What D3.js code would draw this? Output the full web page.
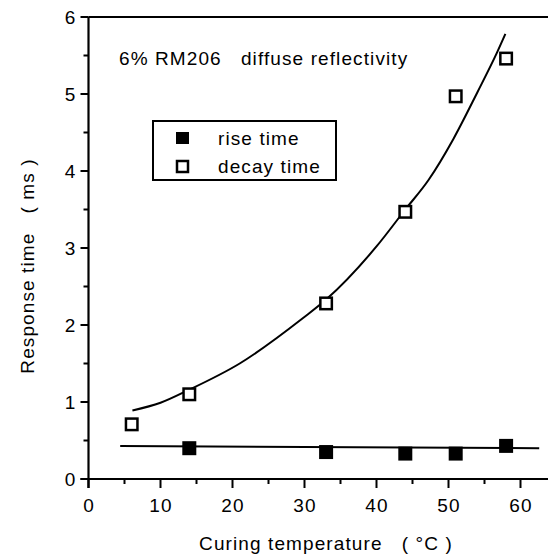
<!DOCTYPE html>
<html><head><meta charset="utf-8">
<script src="https://cdn.jsdelivr.net/npm/d3@7"></script>
<style>body{margin:0;background:#fff}text{font-family:"Liberation Sans",Arial,sans-serif;fill:#000;letter-spacing:1.1px}</style>
</head><body>
<svg id="c" width="548" height="558"></svg>
<script>
// Data
const temps = [6, 14, 33, 44, 51, 58];
const decayTime = [0.71, 1.10, 2.28, 3.47, 4.97, 5.46];
const riseTemps = [14, 33, 44, 51, 58];
const riseTime = [0.40, 0.35, 0.33, 0.33, 0.43];
// fitted curves
const decayFitX = [6.1, 10, 14, 21, 29.8, 33, 40, 44, 47.2, 50.7, 54, 56.7, 57.9];
const decayFitY = [0.89, 0.99, 1.16, 1.50, 2.09, 2.33, 3.02, 3.50, 3.88, 4.42, 5.02, 5.53, 5.78];
const riseFitX = [4.4, 62.6];
const riseFitY = [0.43, 0.40];
const xTicks = [0, 10, 20, 30, 40, 50, 60];
const yTicks = [0, 1, 2, 3, 4, 5, 6];
const xMinor = [5, 15, 25, 35, 45, 55];
const yMinor = [0.5, 1.5, 2.5, 3.5, 4.5, 5.5];

const svg = d3.select("#c");
const x = d3.scaleLinear().domain([0, 64]).range([88.5, 549.3]);
const y = d3.scaleLinear().domain([0, 6]).range([479, 17]);

// top border
svg.append("line").attr("x1", x(0)).attr("x2", 548).attr("y1", y(6)).attr("y2", y(6))
  .attr("stroke", "#000").attr("stroke-width", 2);

// x axis
const gx = svg.append("g").attr("transform", `translate(0,${y(0)})`);
gx.append("line").attr("x1", x(0) - 8).attr("x2", 548).attr("stroke", "#000").attr("stroke-width", 2.2);
gx.selectAll(".maj").data(xTicks).join("line").attr("x1", d => x(d)).attr("x2", d => x(d))
  .attr("y1", 0).attr("y2", 9).attr("stroke", "#000").attr("stroke-width", 2);
gx.selectAll(".min").data(xMinor).join("line").attr("class","min").attr("x1", d => x(d)).attr("x2", d => x(d))
  .attr("y1", 0).attr("y2", 5).attr("stroke", "#000").attr("stroke-width", 2);
gx.selectAll("text").data(xTicks).join("text").attr("x", d => x(d) + 0.5).attr("y", 33)
  .attr("text-anchor", "middle").attr("font-size", 19).text(d => d);

// y axis
const gy = svg.append("g").attr("transform", `translate(${x(0)},0)`);
gy.append("line").attr("y1", y(0) + 9).attr("y2", y(6)).attr("stroke", "#000").attr("stroke-width", 2.2);
gy.selectAll(".maj").data(yTicks).join("line").attr("y1", d => y(d)).attr("y2", d => y(d))
  .attr("x1", 0).attr("x2", -8).attr("stroke", "#000").attr("stroke-width", 2);
gy.selectAll(".min").data(yMinor).join("line").attr("class","min").attr("y1", d => y(d)).attr("y2", d => y(d))
  .attr("x1", 0).attr("x2", -5).attr("stroke", "#000").attr("stroke-width", 2);
gy.selectAll("text").data(yTicks).join("text").attr("x", -12).attr("y", d => y(d) + 7)
  .attr("text-anchor", "end").attr("font-size", 19).text(d => d);

// axis titles
svg.append("text").attr("x", 326).attr("y", 550).attr("text-anchor", "middle").attr("font-size", 19)
  .attr("xml:space", "preserve").text("Curing temperature   ( °C )");
svg.append("text").attr("transform", "translate(34,266) rotate(-90)").attr("text-anchor", "middle")
  .attr("font-size", 19).attr("xml:space", "preserve").text("Response time   ( ms )");

// annotation
svg.append("text").attr("x", 119).attr("y", 65).attr("font-size", 19).attr("xml:space", "preserve")
  .text("6% RM206   diffuse reflectivity");

// fit curves
const line = d3.line().x(d => x(d[0])).y(d => y(d[1]));
svg.append("path").datum(decayFitX.map((v, i) => [v, decayFitY[i]]))
  .attr("d", line.curve(d3.curveMonotoneX)).attr("fill", "none").attr("stroke", "#000").attr("stroke-width", 2);
svg.append("path").datum(riseFitX.map((v, i) => [v, riseFitY[i]]))
  .attr("d", d3.line().x(d => x(d[0])).y(d => y(d[1]))).attr("fill", "none").attr("stroke", "#000").attr("stroke-width", 2);

// markers
const s = 14;
svg.selectAll(".rise").data(riseTemps.map((v, i) => [v, riseTime[i]])).join("rect")
  .attr("x", d => x(d[0]) - s / 2).attr("y", d => y(d[1]) - s / 2).attr("width", s).attr("height", s).attr("fill", "#000");
svg.selectAll(".decay").data(temps.map((v, i) => [v, decayTime[i]])).join("rect")
  .attr("x", d => x(d[0]) - s / 2 + 1.25).attr("y", d => y(d[1]) - s / 2 + 1.25).attr("width", s - 2.5).attr("height", s - 2.5)
  .attr("fill", "#fff").attr("stroke", "#000").attr("stroke-width", 2.5);

// legend
const lg = svg.append("g");
lg.append("rect").attr("x", 153).attr("y", 121).attr("width", 183).attr("height", 59)
  .attr("fill", "#fff").attr("stroke", "#000").attr("stroke-width", 2);
lg.append("rect").attr("x", 176).attr("y", 132).attr("width", 13).attr("height", 12).attr("fill", "#000");
lg.append("rect").attr("x", 177).attr("y", 161).attr("width", 11).attr("height", 11)
  .attr("fill", "#fff").attr("stroke", "#000").attr("stroke-width", 2.5);
lg.append("text").attr("x", 218).attr("y", 145).attr("font-size", 19).text("rise time");
lg.append("text").attr("x", 218).attr("y", 173).attr("font-size", 19).text("decay time");
</script>
</body></html>
